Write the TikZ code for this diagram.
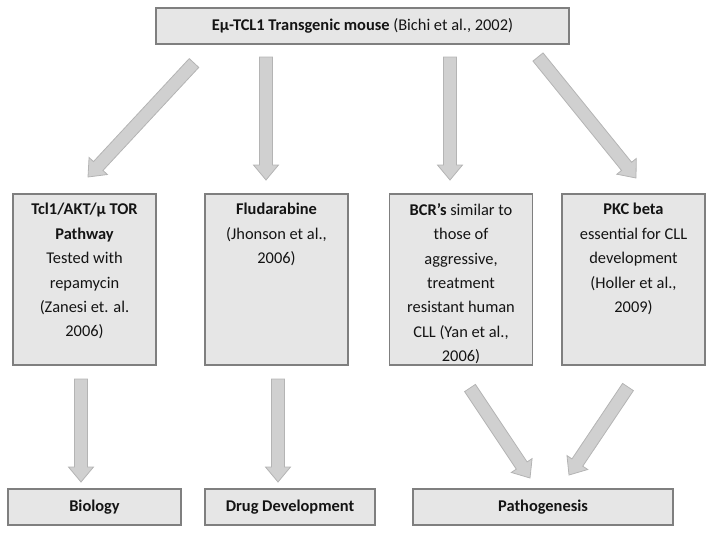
\documentclass[tikz,border=0pt]{standalone}
\usepackage{fontspec}
\setmainfont{Carlito}
\usetikzlibrary{calc}
\definecolor{boxfill}{HTML}{E6E6E6}
\definecolor{boxline}{HTML}{7F7F7F}
\definecolor{arrfill}{HTML}{D0D0D0}
\definecolor{arrline}{HTML}{B4B4B4}
\definecolor{txt}{HTML}{141414}
\tikzset{
  box/.style={draw=boxline, line width=1.6pt, fill=boxfill, inner sep=0pt, text=txt,
    font=\fontsize{16.4}{24.4}\selectfont, align=center},
  widebox/.style={box, minimum height=36pt},
  midbox/.style={box, anchor=north},
  blockarr/.style={draw=arrline, line width=0.8pt, fill=arrfill, line join=miter},
}
\newcommand\blockarrow[2]{%
  \coordinate (hb) at ($(#2)!15pt!(#1)$);
  \draw[blockarr] ($(#1)!6.5pt!90:(#2)$) -- ($(hb)!6.5pt!90:(#2)$) -- ($(hb)!12.5pt!90:(#2)$)
    -- (#2) -- ($(hb)!12.5pt!-90:(#2)$) -- ($(hb)!6.5pt!-90:(#2)$) -- ($(#1)!6.5pt!-90:(#2)$) -- cycle;}
\newcommand\midtext[1]{\parbox[c][171pt][t]{143pt}{\centering\vspace*{9.5pt}#1}}
\begin{document}
\begin{tikzpicture}[x=1pt, y=-1pt]
\useasboundingbox (0,0) rectangle (714,536);
% top
\node[widebox, minimum width=413pt] (top) at (362.5,26) {\textbf{Eμ-TCL1 Transgenic mouse} (Bichi et al., 2002)};
% middle
\node[midbox] (tcl) at (84.5,193) {\midtext{\textbf{Tcl1/AKT/μ TOR}\\\textbf{Pathway}\\Tested with\\repamycin\\(Zanesi et. al.\\2006)}};
\node[midbox] (flu) at (276.5,193) {\midtext{\textbf{Fludarabine}\\(Jhonson et al.,\\2006)}};
\node[midbox] (bcr) at (461,193) {\midtext{\textbf{BCR’s} similar to\\those of\\aggressive,\\treatment\\resistant human\\CLL (Yan et al.,\\2006)}};
\node[midbox] (pkc) at (633.5,193) {\midtext{\textbf{PKC beta}\\essential for CLL\\development\\(Holler et al.,\\2009)}};
% bottom
\node[widebox, minimum width=173pt] (bio) at (94.5,507) {\textbf{Biology}};
\node[widebox, minimum width=170pt] (drug) at (290,507) {\textbf{Drug Development}};
\node[widebox, minimum width=260pt] (path) at (543,507) {\textbf{Pathogenesis}};
% arrow end points
\coordinate (t1s) at (194,63);  \coordinate (t1e) at (88,177);
\coordinate (t2s) at (266,57);  \coordinate (t2e) at (266,180);
\coordinate (t3s) at (450,57);  \coordinate (t3e) at (450,180);
\coordinate (t4s) at (538,57);  \coordinate (t4e) at (636,178);
\coordinate (b1s) at (81,379);  \coordinate (b1e) at (81,482);
\coordinate (b2s) at (278,379); \coordinate (b2e) at (278,482);
\coordinate (b3s) at (470,388); \coordinate (b3e) at (530,478);
\coordinate (b4s) at (628,387); \coordinate (b4e) at (569,475);
\blockarrow{t1s}{t1e}
\blockarrow{t2s}{t2e}
\blockarrow{t3s}{t3e}
\blockarrow{t4s}{t4e}
\blockarrow{b1s}{b1e}
\blockarrow{b2s}{b2e}
\blockarrow{b3s}{b3e}
\blockarrow{b4s}{b4e}
\end{tikzpicture}
\end{document}
